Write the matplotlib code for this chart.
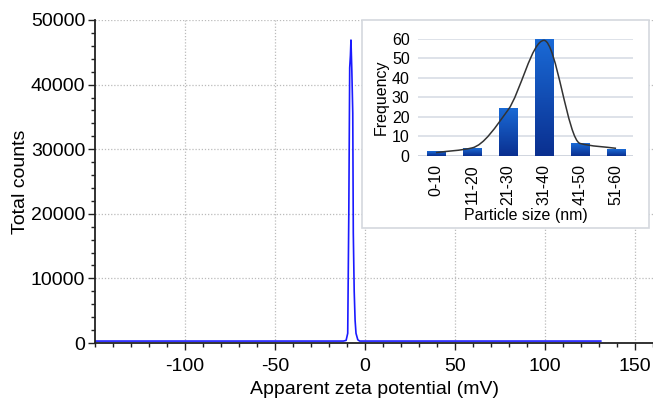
import numpy as np
import matplotlib
matplotlib.use("Agg")
import matplotlib.pyplot as plt
from matplotlib.patches import Rectangle
from matplotlib.path import Path
from matplotlib.patches import PathPatch

plt.rcParams['font.family'] = ['Liberation Sans', 'DejaVu Sans']
plt.rcParams['axes.unicode_minus'] = False

# Main zeta potential distribution
zeta_mv = [-150, -12, -10.5, -9.6, -9.0, -8.5, -8.1, -7.8, -7.3, -6.8, -6.5, -6.0, -5.5, -5.0, -4.0, -3.0, 131]
counts = [300, 300, 400, 1500, 20000, 42600, 44500, 46900, 42000, 35600, 17000, 8000, 3500, 1500, 500, 300, 300]

# Inset histogram
size_labels = ['0-10', '11-20', '21-30', '31-40', '41-50', '51-60']
freq = [2.4, 4.1, 24.5, 60, 6.5, 3.4]
curve_vals = [1.6, 4.0, 23.5, 59.3, 6.3, 3.8]

fig = plt.figure(figsize=(6.53, 4.01), dpi=100)
ax = fig.add_axes([95/653, 1-343/401, 1-95/653, (343-20)/401])
ax.plot(zeta_mv, counts, color='#1a1aff', lw=1.2)
ax.set_xlim(-150, 160)
ax.set_ylim(0, 50000)
ax.set_xticks([-100, -50, 0, 50, 100, 150])
ax.set_xticks(np.arange(-150, 161, 10), minor=True)
ax.set_yticks([0, 10000, 20000, 30000, 40000, 50000])
ax.set_yticks(np.arange(0, 50001, 2000), minor=True)
for s in ['top', 'right']:
    ax.spines[s].set_visible(False)
for s in ['left', 'bottom']:
    ax.spines[s].set_linewidth(1.3)
    ax.spines[s].set_color('#222222')
ax.tick_params(which='major', direction='out', length=5, width=1, labelsize=14, colors='#222222', labelcolor='black')
ax.tick_params(which='minor', direction='out', length=3, width=1, colors='#222222')
ax.tick_params(axis='x', pad=6)
ax.tick_params(axis='y', pad=2)
ax.grid(True, which='major', color='#bbbbbb', linestyle=(0, (1, 1.5)), lw=0.9)
ax.set_xlabel('Apparent zeta potential (mV)', fontsize=14, labelpad=4)
ax.set_ylabel('Total counts', fontsize=14, labelpad=1.5)

# Inset frame
fig.patches.append(Rectangle((362/653, 1-228/401), (649-362)/653, (228-20)/401,
                             transform=fig.transFigure, facecolor='white',
                             edgecolor='#d4d8de', lw=1.2, zorder=5))

axi = fig.add_axes([418/653, 1-155.7/401, (633-418)/653, (155.7-39)/401], zorder=10)
axi.set_facecolor('none')
x = np.arange(len(size_labels))
bars = axi.bar(x, freq, width=0.5, color='#1456c0', zorder=3)
# gradient fill for bars
grad = np.linspace(0, 1, 256).reshape(-1, 1)
cmap = matplotlib.colors.LinearSegmentedColormap.from_list('b', ['#0a2f8f', '#1a6ad6'])
for b in bars:
    bx, by, bw, bh = b.get_x(), b.get_y(), b.get_width(), b.get_height()
    im = axi.imshow(grad, extent=[bx, bx + bw, by, by + bh], origin='lower',
                    cmap=cmap, aspect='auto', zorder=3)
    im.set_clip_path(b)
    b.set_facecolor('none')
    b.set_edgecolor('none')

# smooth curve through points (monotone cubic tangents, drawn as Bezier)
xs = x.astype(float)
ys = np.array(curve_vals, dtype=float)
d = np.diff(ys) / np.diff(xs)
m = np.zeros_like(ys)
m[0], m[-1] = d[0], d[-1]
for i in range(1, len(ys) - 1):
    if d[i - 1] * d[i] > 0:
        m[i] = 2 / (1 / d[i - 1] + 1 / d[i])
verts = [(xs[0], ys[0])]
codes = [Path.MOVETO]
for i in range(len(xs) - 1):
    h = xs[i + 1] - xs[i]
    verts += [(xs[i] + h / 3, ys[i] + m[i] * h / 3),
              (xs[i + 1] - h / 3, ys[i + 1] - m[i + 1] * h / 3),
              (xs[i + 1], ys[i + 1])]
    codes += [Path.CURVE4] * 3
axi.add_patch(PathPatch(Path(verts, codes), facecolor='none', edgecolor='#333333', lw=1.1, zorder=4, clip_on=False))

axi.set_xlim(-0.5, 5.47)
axi.set_ylim(0, 60)
axi.set_yticks([0, 10, 20, 30, 40, 50, 60])
axi.set_xticks(x)
axi.set_xticklabels(size_labels, rotation=90)
axi.yaxis.grid(True, color='#d5dae3', lw=1.1, zorder=0)
axi.set_axisbelow(True)
for s in axi.spines.values():
    s.set_visible(False)
axi.axhline(0, color='#cfd4dd', lw=1.2, zorder=1)
axi.tick_params(length=0, labelsize=11.5, pad=6)
axi.set_ylabel('Frequency', fontsize=11.5, labelpad=2)
axi.set_xlabel('Particle size (nm)', fontsize=11.5, labelpad=2)

fig.savefig('out.png', dpi=100)
